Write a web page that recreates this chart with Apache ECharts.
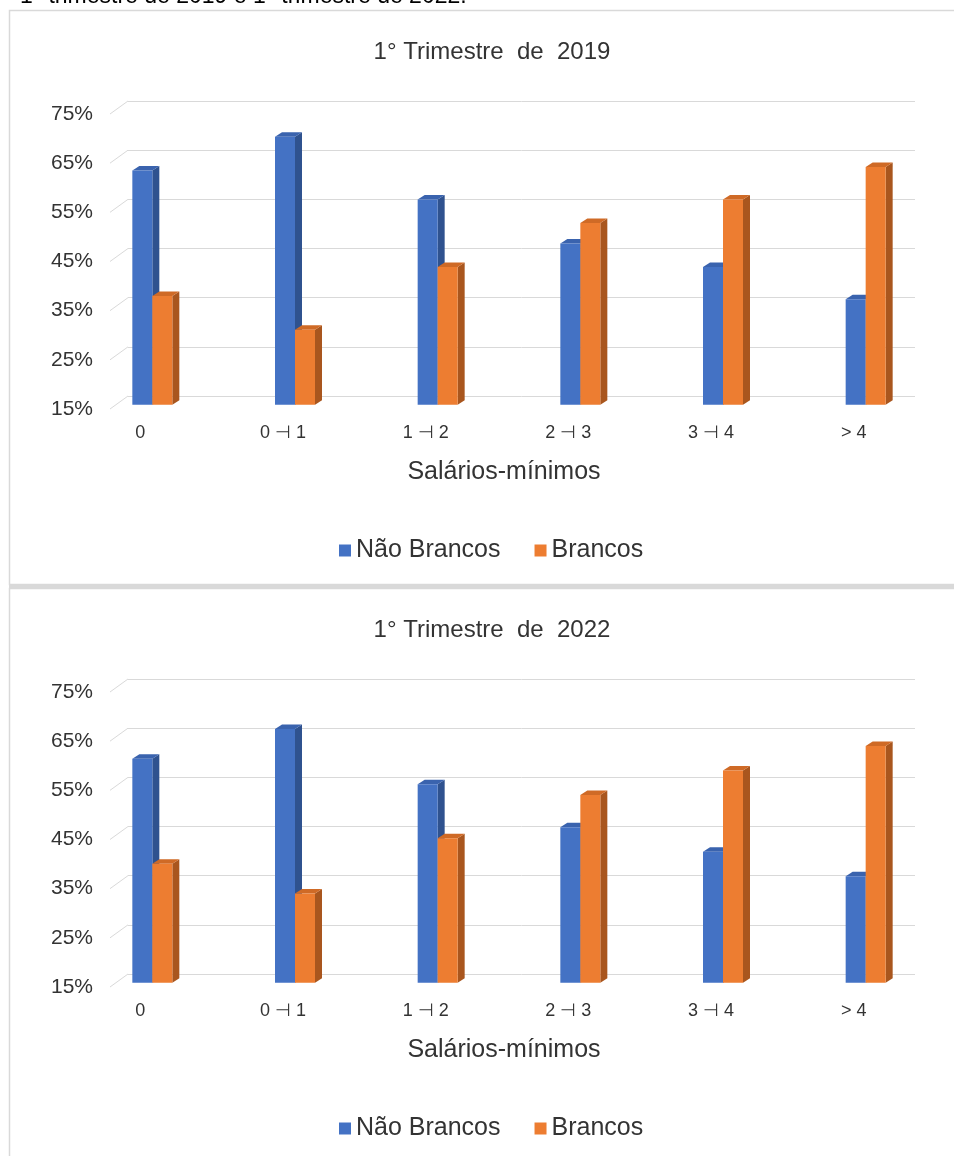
<!DOCTYPE html>
<html>
<head>
<meta charset="UTF-8">
<title></title>
<style>
  html, body { margin: 0; padding: 0; background: #fff; }
  #container { width: 954px; height: 1156px; }
</style>
</head>
<body>
<div id="container"></div>
<script src="https://cdn.jsdelivr.net/npm/echarts@6/dist/echarts.min.js"></script>
<script>
  var categorias = ['0', '0 ⊣ 1', '1 ⊣ 2', '2 ⊣ 3', '3 ⊣ 4', '> 4'];
  var naoBrancos2019 = [62.8, 69.7, 56.9, 47.9, 43.1, 36.5];
  var brancos2019 = [37.2, 30.3, 43.1, 52.1, 56.9, 63.5];
  var naoBrancos2022 = [60.7, 66.8, 55.5, 46.7, 41.7, 36.7];
  var brancos2022 = [39.3, 33.2, 44.5, 53.3, 58.3, 63.3];
  var ticksY = [15, 25, 35, 45, 55, 65, 75];
  var titulos = ['1° Trimestre  de  2019', '1° Trimestre  de  2022'];
  var nomesSeries = ['Não Brancos', 'Brancos'];

  var corFrente = ['#4472C4', '#ED7D31'];
  var corLado = ['#2F528F', '#A9561E'];
  var corTopo = ['#3A63AE', '#CF6A26'];
  var fonte = 'Liberation Sans, Arial, sans-serif';
  var corTexto = '#333333';

  // barra com face lateral e topo, imitando a coluna 3D do Excel
  function barra3d(s) {
    return function (params, api) {
      var topo = api.coord([api.value(0), api.value(1)]);
      var base = api.coord([api.value(0), 15]);
      var w = 20, dx = 7, dy = 4.5;
      var x0 = topo[0] + (s === 0 ? -w : 0);
      var x1 = x0 + w, yT = topo[1], yB = base[1];
      return {
        type: 'group',
        children: [
          { type: 'polygon', shape: { points: [[x1, yT], [x1 + dx, yT - dy], [x1 + dx, yB - dy], [x1, yB]] }, style: { fill: corLado[s] } },
          { type: 'polygon', shape: { points: [[x0, yT], [x0 + dx, yT - dy], [x1 + dx, yT - dy], [x1, yT]] }, style: { fill: corTopo[s] } },
          { type: 'rect', shape: { x: x0, y: yT, width: w, height: yB - yT }, style: { fill: corFrente[s] } }
        ]
      };
    };
  }

  // traço diagonal do chão/parede para cada linha de grade
  function diagonal(params, api) {
    var p = api.coord([0, api.value(1)]);
    var x0 = params.coordSys.x;
    return {
      type: 'line',
      shape: { x1: x0 - 18, y1: p[1] + 13, x2: x0, y2: p[1] },
      style: { stroke: '#d9d9d9', lineWidth: 1 }
    };
  }

  var option = {
    animation: false,
    backgroundColor: '#fff',
    title: [], legend: [], grid: [], xAxis: [], yAxis: [], series: [],
    graphic: [
      { type: 'text', left: 20, top: -15, style: { text: '1° trimestre de 2019 e 1° trimestre de 2022.', font: '23px ' + fonte, fill: '#000' } },
      { type: 'rect', shape: { x: 9.5, y: 10.5, width: 960, height: 574 }, style: { fill: 'none', stroke: '#d9d9d9', lineWidth: 1.5 } },
      { type: 'rect', shape: { x: 9, y: 585, width: 960, height: 3 }, style: { fill: '#d9d9d9' } },
      { type: 'rect', shape: { x: 9.5, y: 588.5, width: 960, height: 600 }, style: { fill: 'none', stroke: '#d9d9d9', lineWidth: 1.5 } }
    ]
  };

  function painel(i, serieA, serieB) {
    var d = i * 578;
    var g = 3 * i;
    option.title.push({
      text: titulos[i], left: 487, top: 35 + d, textAlign: 'center',
      textStyle: { fontFamily: fonte, fontSize: 24, fontWeight: 'normal', color: corTexto }
    });
    option.legend.push({
      data: nomesSeries, left: 334, top: 533 + d, icon: 'rect',
      itemWidth: 12, itemHeight: 12, itemGap: 34,
      textStyle: { fontFamily: fonte, fontSize: 25, color: corTexto }
    });
    // parede do fundo com a grade
    option.grid.push({ left: 128, top: 101 + d, width: 787, height: 295 });
    // plano da frente, só para os rótulos do eixo y
    option.grid.push({ left: 110, top: 114 + d, width: 787, height: 295 });
    // plano das barras
    option.grid.push({ left: 81, top: 110.7 + d, width: 856, height: 294 });

    option.xAxis.push({ type: 'value', gridIndex: g, min: 0, max: 1, show: false });
    option.xAxis.push({ type: 'value', gridIndex: g + 1, min: 0, max: 1, show: false });
    option.xAxis.push({
      type: 'category', gridIndex: g + 2, data: categorias,
      axisLine: { show: false }, axisTick: { show: false },
      axisLabel: { margin: 19, fontFamily: fonte, fontSize: 18, color: corTexto, padding: [0, 24, 0, 0] },
      name: 'Salários-mínimos', nameLocation: 'middle', nameGap: 55,
      nameTextStyle: { fontFamily: fonte, fontSize: 25, color: corTexto, padding: [0, 10, 0, 0] }
    });

    option.yAxis.push({
      type: 'value', gridIndex: g, min: 15, max: 75, interval: 10,
      axisLine: { show: false }, axisTick: { show: false }, axisLabel: { show: false },
      splitLine: { lineStyle: { color: '#d9d9d9', width: 1 } }
    });
    option.yAxis.push({
      type: 'value', gridIndex: g + 1, min: 15, max: 75, interval: 10,
      axisLine: { show: false }, axisTick: { show: false }, splitLine: { show: false },
      axisLabel: { formatter: '{value}%', margin: 17, fontFamily: fonte, fontSize: 21, color: corTexto }
    });
    option.yAxis.push({ type: 'value', gridIndex: g + 2, min: 15, max: 75, show: false });

    option.series.push({
      type: 'custom', xAxisIndex: g, yAxisIndex: g, silent: true,
      data: ticksY.map(function (v) { return [0, v]; }), renderItem: diagonal
    });
    [serieA, serieB].forEach(function (valores, s) {
      option.series.push({
        name: nomesSeries[s], type: 'custom', xAxisIndex: g + 2, yAxisIndex: g + 2,
        itemStyle: { color: corFrente[s] },
        data: valores.map(function (v, k) { return [k, v]; }),
        renderItem: barra3d(s)
      });
    });
  }

  painel(0, naoBrancos2019, brancos2019);
  painel(1, naoBrancos2022, brancos2022);

  var myChart = echarts.init(document.getElementById('container'));
  myChart.setOption(option);
</script>
</body>
</html>
